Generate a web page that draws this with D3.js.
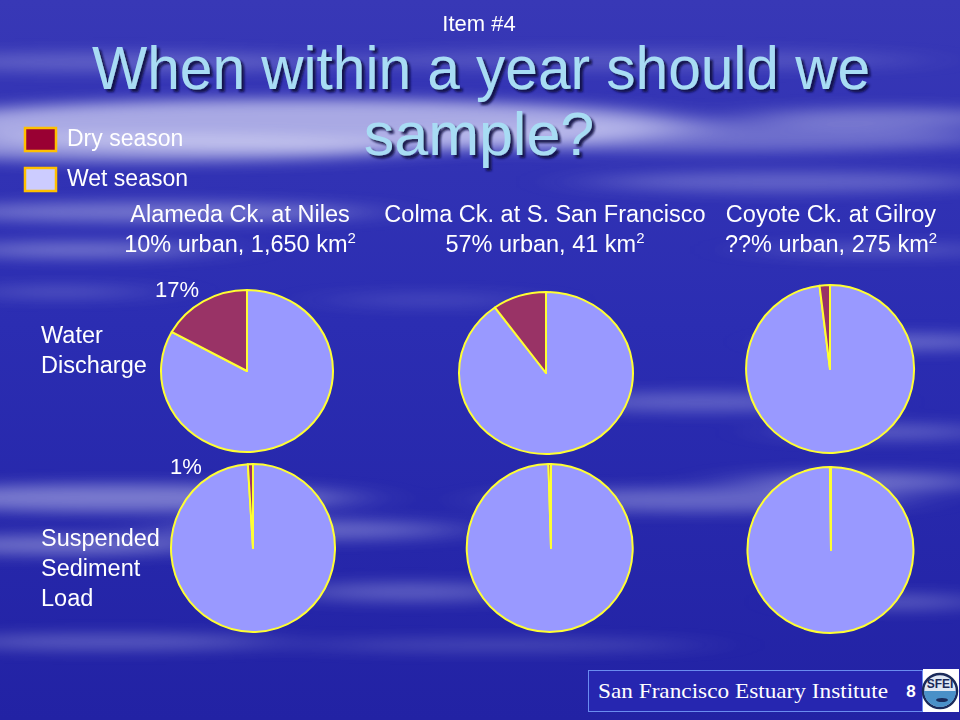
<!DOCTYPE html>
<html>
<head>
<meta charset="utf-8">
<script src="https://cdn.jsdelivr.net/npm/d3@7"></script>
<style>
  body { margin: 0; background: #2a2cae; }
  svg { display: block; font-family: "Liberation Sans", Arial, sans-serif; }
  .serif { font-family: "Liberation Serif", "DejaVu Serif", serif; }
</style>
</head>
<body>
<script>
// -----------------------------------------------------------------------
// Data
// -----------------------------------------------------------------------

const SITES = ["Alameda Ck. at Niles", "Colma Ck. at S. San Francisco", "Coyote Ck. at Gilroy"];
const SITE_INFO = ["10% urban, 1,650 km", "57% urban, 41 km", "??% urban, 275 km"];
const MEASURES = [["Water", "Discharge"], ["Suspended", "Sediment", "Load"]];
const SEASONS = ["Wet season", "Dry season"];

// percent of the yearly total that falls in the dry season
const dryWater = [17, 10, 2];
const drySediment = [1, 0.5, 0.2];
const shownLabels = [["17%", "", ""], ["1%", "", ""]];

// -----------------------------------------------------------------------
// Layout
// -----------------------------------------------------------------------

const W = 960, H = 720;
const WET = "#9999ff", DRY = "#993366", EDGE = "#ffff33";

// pie centres / radii (row, column)
const pieLayout = [
  [{cx: 247, cy: 371, rx: 86, ry: 81}, {cx: 546, cy: 373, rx: 87, ry: 81}, {cx: 830, cy: 369, rx: 84, ry: 84}],
  [{cx: 253, cy: 548, rx: 82, ry: 84}, {cx: 551, cy: 548, rx: 83, ry: 84}, {cx: 831, cy: 550, rx: 83, ry: 83}]
];
// where the percent labels sit
const labelPos = [[177, 297], [186, 474]];

const svg = d3.select("body").append("svg")
  .attr("width", W)
  .attr("height", H);

const defs = svg.append("defs");
const grad = defs.append("linearGradient")
  .attr("id", "bg").attr("x1", 0).attr("y1", 0).attr("x2", 0).attr("y2", 1);
grad.append("stop").attr("offset", "0%").attr("stop-color", "#3838b6");
grad.append("stop").attr("offset", "45%").attr("stop-color", "#2b2db2");
grad.append("stop").attr("offset", "100%").attr("stop-color", "#2222a4");

defs.append("filter").attr("id", "blur")
  .attr("x", "-50%").attr("y", "-200%").attr("width", "200%").attr("height", "500%")
  .append("feGaussianBlur").attr("stdDeviation", "40 7");

const shadow = defs.append("filter").attr("id", "shadow")
  .attr("x", "-10%").attr("y", "-20%").attr("width", "120%").attr("height", "150%");
shadow.append("feDropShadow")
  .attr("dx", 3).attr("dy", 3).attr("stdDeviation", 1)
  .attr("flood-color", "#0a0a40").attr("flood-opacity", 0.9);

svg.append("rect").attr("width", W).attr("height", H).attr("fill", "url(#bg)");

// cloudy streaks in the background
const streaks = [
  [300, 125, 390, 26, 0.7], [150, 148, 260, 14, 0.55], [700, 138, 300, 14, 0.35],
  [880, 118, 140, 10, 0.4], [120, 62, 220, 10, 0.25], [620, 60, 300, 10, 0.18],
  [150, 212, 220, 10, 0.4], [80, 250, 130, 8, 0.4], [60, 292, 90, 6, 0.25],
  [790, 182, 200, 10, 0.3], [430, 300, 100, 7, 0.15], [910, 342, 110, 8, 0.35],
  [700, 402, 150, 10, 0.3], [890, 432, 100, 8, 0.3], [120, 498, 230, 14, 0.45],
  [60, 545, 150, 10, 0.4], [310, 530, 150, 10, 0.35], [410, 592, 120, 10, 0.3],
  [700, 500, 200, 12, 0.35], [860, 482, 120, 10, 0.4], [900, 602, 80, 8, 0.3],
  [110, 642, 170, 8, 0.3], [500, 645, 200, 6, 0.22], [880, 250, 120, 6, 0.25]
];
svg.append("g").attr("filter", "url(#blur)")
  .selectAll("ellipse")
  .data(streaks)
  .join("ellipse")
  .attr("cx", d => d[0]).attr("cy", d => d[1])
  .attr("rx", d => d[2]).attr("ry", d => d[3])
  .attr("fill", "#dcdcf8")
  .attr("opacity", d => d[4]);

// -----------------------------------------------------------------------
// Titles
// -----------------------------------------------------------------------

svg.append("text")
  .attr("x", 479).attr("y", 31)
  .attr("text-anchor", "middle")
  .attr("font-size", 22)
  .attr("fill", "#ffffff")
  .text("Item #4");

const title = svg.append("g").attr("filter", "url(#shadow)")
  .attr("fill", "#a8dcf4").attr("font-size", 61).attr("text-anchor", "middle");
title.append("text").attr("x", 481).attr("y", 89)
  .attr("textLength", 778).attr("lengthAdjust", "spacingAndGlyphs")
  .text("When within a year should we");
title.append("text").attr("x", 479).attr("y", 155)
  .text("sample?");

// legend
const legend = svg.append("g").attr("transform", "translate(24, 127)");
const legendRow = legend.selectAll("g")
  .data(["Dry season", "Wet season"])
  .join("g")
  .attr("transform", (d, i) => `translate(0, ${i * 40})`);
legendRow.append("rect")
  .attr("x", 1).attr("y", 1).attr("width", 31).attr("height", 23)
  .attr("fill", d => d === "Dry season" ? "#990033" : "#ccccff")
  .attr("stroke", "#ffc000").attr("stroke-width", 2.5);
legendRow.append("text")
  .attr("x", 43).attr("y", 19)
  .attr("font-size", 23)
  .attr("fill", "#ffffff")
  .text(d => d);

// site headings
const colX = [240, 545, 831];
const heads = svg.append("g").attr("fill", "#ffffff").attr("font-size", 23.5).attr("text-anchor", "middle");
SITES.forEach((s, i) => {
  heads.append("text").attr("x", colX[i]).attr("y", 222).text(s);
  const t = heads.append("text").attr("x", colX[i]).attr("y", 252);
  t.append("tspan").text(SITE_INFO[i]);
  t.append("tspan").attr("font-size", 15).attr("dy", -9).text("2");
});

// row labels
const rowY = [343, 546];
MEASURES.forEach((lines, r) => {
  svg.append("text")
    .attr("x", 41).attr("y", rowY[r])
    .attr("font-size", 23.5)
    .attr("fill", "#ffffff")
    .selectAll("tspan")
    .data(lines)
    .join("tspan")
    .attr("x", 41)
    .attr("dy", (d, i) => i === 0 ? 0 : 30)
    .text(d => d);
});

// -----------------------------------------------------------------------
// Pies
// -----------------------------------------------------------------------

const pie = d3.pie().sort(null).value(d => d.value);
const arc = d3.arc().innerRadius(0).outerRadius(1);

[dryWater, drySediment].forEach((series, r) => {
  series.forEach((dry, c) => {
    const L = pieLayout[r][c];
    const slices = pie([
      {season: SEASONS[0], value: 100 - dry},
      {season: SEASONS[1], value: dry}
    ]);
    const g = svg.append("g")
      .attr("transform", `translate(${L.cx}, ${L.cy}) scale(${L.rx}, ${L.ry})`);
    g.selectAll("path")
      .data(slices)
      .join("path")
      .attr("d", arc)
      .attr("fill", d => d.data.season === "Dry season" ? DRY : WET)
      .attr("stroke", EDGE)
      .attr("stroke-width", 2)
      .attr("stroke-linejoin", "round")
      .attr("vector-effect", "non-scaling-stroke");

    const lab = shownLabels[r][c];
    if (lab) {
      svg.append("text")
        .attr("x", labelPos[r][0])
        .attr("y", labelPos[r][1])
        .attr("font-size", 22)
        .attr("fill", "#ffffff")
        .attr("text-anchor", "middle")
        .text(lab);
    }
  });
});

// -----------------------------------------------------------------------
// Footer
// -----------------------------------------------------------------------

svg.append("rect")
  .attr("x", 588.5).attr("y", 670.5).attr("width", 334).attr("height", 41)
  .attr("fill", "#2626b0")
  .attr("stroke", "#6a8cf0").attr("stroke-width", 1);
svg.append("text")
  .attr("class", "serif")
  .attr("x", 598).attr("y", 698)
  .attr("font-size", 22)
  .attr("textLength", 290).attr("lengthAdjust", "spacingAndGlyphs")
  .attr("fill", "#ffffff")
  .text("San Francisco Estuary Institute");
svg.append("text")
  .attr("x", 911).attr("y", 697)
  .attr("text-anchor", "middle")
  .attr("font-size", 17).attr("font-weight", "bold")
  .attr("fill", "#ffffff")
  .text("8");

// logo badge
const logo = svg.append("g").attr("transform", "translate(940, 691)");
logo.append("rect").attr("x", -17).attr("y", -22).attr("width", 36).attr("height", 43).attr("fill", "#ffffff");
logo.append("circle").attr("r", 17).attr("fill", "#dfe8f4").attr("stroke", "#1a2a5a").attr("stroke-width", 2.5);
logo.append("path").attr("d", "M-16,0 A16,16 0 0 0 16,0 Z").attr("fill", "#4a90c8");
logo.append("text").attr("y", -3).attr("text-anchor", "middle")
  .attr("font-size", 12).attr("font-weight", "bold").attr("fill", "#1a2a5a")
  .text("SFEI");
logo.append("ellipse").attr("cx", 2).attr("cy", 9).attr("rx", 6).attr("ry", 2).attr("fill", "#1a2a5a");
</script>
</body>
</html>
